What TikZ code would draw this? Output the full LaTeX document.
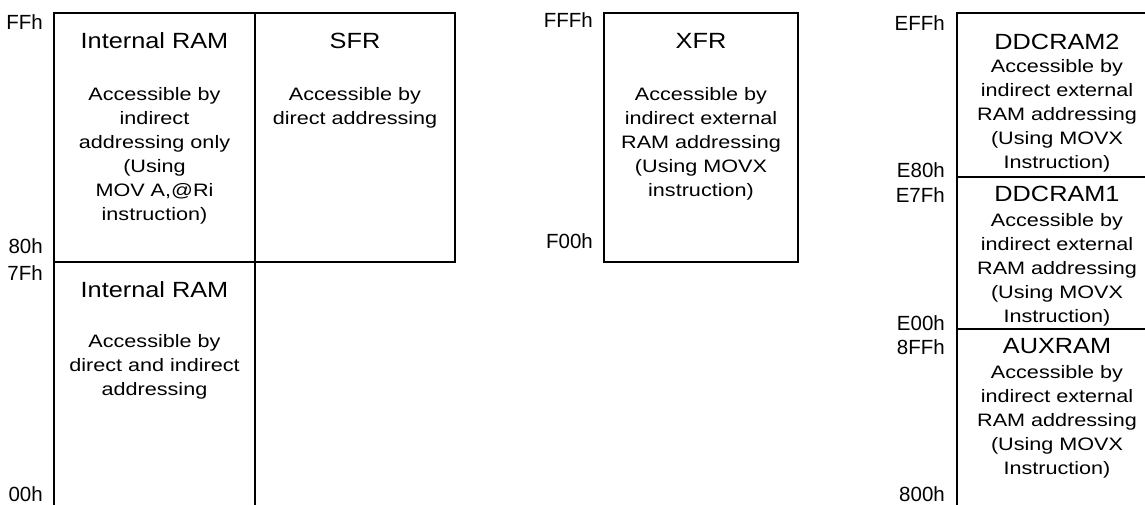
\documentclass[tikz,border=0pt]{standalone}
\usepackage{fontspec}
\setmainfont{Liberation Sans}
\begin{document}
\begin{tikzpicture}[x=1pt,y=-1pt,
  wall/.style={line width=2pt, line join=miter},
  ttl/.style={font=\fontsize{22}{26}\selectfont, anchor=base, inner sep=0pt, xscale=1.15, transform shape},
  body/.style={font=\fontsize{18}{24}\selectfont, anchor=north, inner sep=0pt, align=center, xscale=1.2, transform shape},
  addr/.style={font=\fontsize{20.5}{24}\selectfont, anchor=base east, inner sep=0pt}]
\useasboundingbox (0,0) rectangle (1145,505);
% frames
\draw[wall] (54,507) -- (54,13) -- (455,13) -- (455,262) -- (54,262);
\draw[wall] (255,13) -- (255,507);
\draw[wall] (604,13) rectangle (798,262);
\draw[wall] (957,507) -- (957,13) -- (1147,13);
\draw[wall] (957,177) -- (1147,177);
\draw[wall] (957,329) -- (1147,329);
% address labels
\node[addr] (aFF) at (43,30) {FFh};
\node[addr] (a80) at (43,253) {80h};
\node[addr] (a7F) at (43,280) {7Fh};
\node[addr] (a00) at (43,501.5) {00h};
\node[addr] (aFFF) at (593,28) {FFFh};
\node[addr] (aF00) at (593,248) {F00h};
\node[addr] (aEFF) at (945,31) {EFFh};
\node[addr] (aE80) at (945,178) {E80h};
\node[addr] (aE7F) at (945,202) {E7Fh};
\node[addr] (aE00) at (945,330) {E00h};
\node[addr] (a8FF) at (945,354) {8FFh};
\node[addr] (a800) at (945,501.5) {800h};
% internal RAM
\begin{scope}[shift={(154.5,0)}]
\node[ttl] (iramHiT) at (0,49) {Internal RAM};
\node[body] (iramHiB) at (0,87.1) {Accessible by\\indirect\\addressing only\\(Using\\MOV A,@Ri\\instruction)};
\node[ttl] (iramLoT) at (0,297) {Internal RAM};
\node[body] (iramLoB) at (0,334.1) {Accessible by\\direct and indirect\\addressing};
\end{scope}
% SFR
\begin{scope}[shift={(355,0)}]
\node[ttl] (sfrT) at (0,49) {SFR};
\node[body] (sfrB) at (0,87.1) {Accessible by\\direct addressing};
\end{scope}
% XFR
\begin{scope}[shift={(701,0)}]
\node[ttl] (xfrT) at (0,49) {XFR};
\node[body] (xfrB) at (0,87.1) {Accessible by\\indirect external\\RAM addressing\\(Using MOVX\\instruction)};
\end{scope}
% external RAM column
\begin{scope}[shift={(1057,0)}]
\node[ttl] (dd2T) at (0,50) {DDCRAM2};
\node[body] (dd2B) at (0,59.1) {Accessible by\\indirect external\\RAM addressing\\(Using MOVX\\Instruction)};
\node[ttl] (dd1T) at (0,201) {DDCRAM1};
\node[body] (dd1B) at (0,213.1) {Accessible by\\indirect external\\RAM addressing\\(Using MOVX\\Instruction)};
\node[ttl] (auxT) at (0,353) {AUXRAM};
\node[body] (auxB) at (0,365.1) {Accessible by\\indirect external\\RAM addressing\\(Using MOVX\\Instruction)};
\end{scope}
\end{tikzpicture}
\end{document}
